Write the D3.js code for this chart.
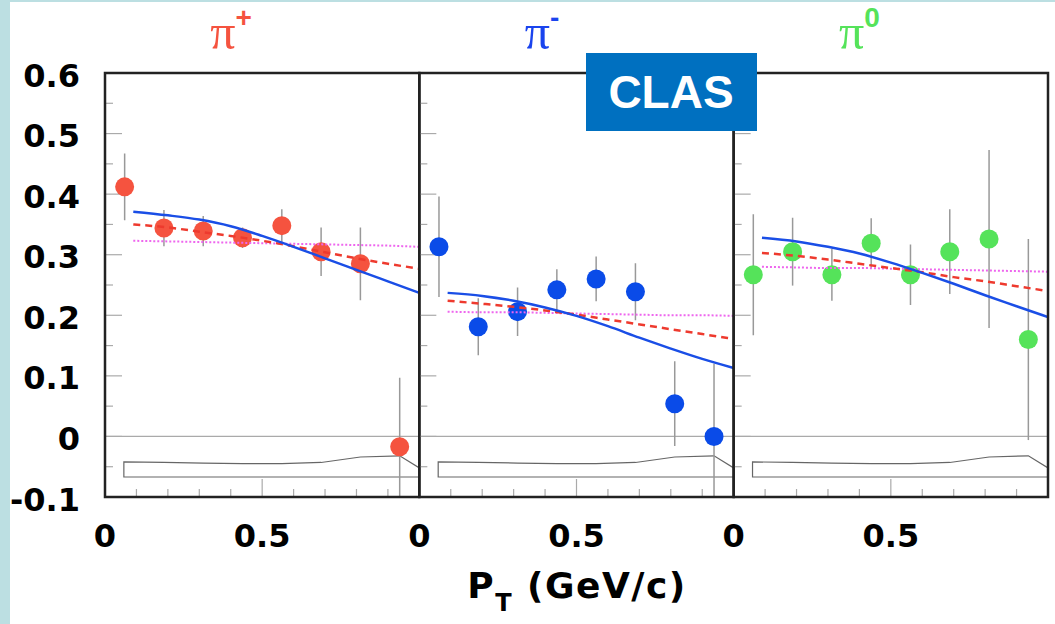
<!DOCTYPE html>
<html>
<head>
<meta charset="utf-8">
<script src="https://cdn.jsdelivr.net/npm/d3@7"></script>
<style>
  html, body { margin: 0; padding: 0; background: #fff; }
  svg { display: block; }
  .lbl { font-family: 'DejaVu Sans', 'Liberation Sans', sans-serif; font-weight: bold; fill: #000; }
</style>
</head>
<body>
<svg id="chart"></svg>
<script>
// bin centres in P_T (GeV/c)
const binCenters = [0.0625, 0.1875, 0.3125, 0.4375, 0.5625, 0.6875, 0.8125, 0.9375];

const piPlusVals = [0.412, 0.344, 0.339, 0.328, 0.348, 0.305, 0.285, -0.017];
const piPlusErrs = [0.055, 0.03, 0.025, 0.017, 0.027, 0.04, 0.06, 0.114];
const piMinusVals = [0.313, 0.181, 0.206, 0.242, 0.26, 0.239, 0.054, 0.0];
const piMinusErrs = [0.083, 0.047, 0.04, 0.034, 0.037, 0.047, 0.07, 0.12];
const piZeroVals = [0.267, 0.305, 0.267, 0.319, 0.267, 0.305, 0.326, 0.16];
const piZeroErrs = [0.1, 0.056, 0.043, 0.041, 0.05, 0.07, 0.147, 0.166];

// theory curves
const theoryPt = [0.09, 0.2, 0.3, 0.4, 0.5, 0.6, 0.7, 0.8, 0.9, 1.0];
const piPlusSolid = [0.371, 0.365, 0.358, 0.347, 0.331, 0.313, 0.294, 0.275, 0.256, 0.237];
const piPlusDashed = [0.35, 0.345, 0.338, 0.331, 0.323, 0.314, 0.304, 0.294, 0.285, 0.277];
const piPlusDotted = [0.323, 0.322, 0.321, 0.32, 0.319, 0.318, 0.317, 0.316, 0.315, 0.313];
const piMinusSolid = [0.237, 0.232, 0.224, 0.213, 0.199, 0.182, 0.163, 0.145, 0.128, 0.113];
const piMinusDashed = [0.224, 0.219, 0.214, 0.208, 0.201, 0.193, 0.185, 0.177, 0.169, 0.161];
const piMinusDotted = [0.206, 0.205, 0.205, 0.204, 0.203, 0.202, 0.201, 0.2, 0.2, 0.199];
const piZeroSolid = [0.328, 0.322, 0.313, 0.302, 0.287, 0.27, 0.252, 0.233, 0.215, 0.197];
const piZeroDashed = [0.303, 0.298, 0.292, 0.285, 0.278, 0.271, 0.263, 0.256, 0.248, 0.24];
const piZeroDotted = [0.28, 0.279, 0.278, 0.278, 0.277, 0.276, 0.275, 0.274, 0.273, 0.272];

// systematic band outline
const bandPt = [0.06, 0.1875, 0.3125, 0.4375, 0.5625, 0.6875, 0.8125, 0.9375, 1.0];
const bandTop = [-0.042, -0.043, -0.044, -0.045, -0.045, -0.043, -0.034, -0.032, -0.052];
const bandBottom = -0.067;

const yTicks = [-0.1, 0, 0.1, 0.2, 0.3, 0.4, 0.5, 0.6];
const yTickLabels = ['-0.1', '0', '0.1', '0.2', '0.3', '0.4', '0.5', '0.6'];
const xTickValues = [0, 0.5];
const xTickLabels = ['0', '0.5'];

const panelNames = ['π', 'π', 'π'];
const panelCharges = ['+', '-', '0'];
const panelColors = ['#f5533f', '#1a44ee', '#55e35a'];
const dotColors = ['#f5533f', '#0a4be8', '#55e35a'];

const panelData = [
  { vals: piPlusVals, errs: piPlusErrs, solid: piPlusSolid, dashed: piPlusDashed, dotted: piPlusDotted },
  { vals: piMinusVals, errs: piMinusErrs, solid: piMinusSolid, dashed: piMinusDashed, dotted: piMinusDotted },
  { vals: piZeroVals, errs: piZeroErrs, solid: piZeroSolid, dashed: piZeroDashed, dotted: piZeroDotted },
];

const width = 1055;
const height = 624;
const svg = d3.select('#chart').attr('width', width).attr('height', height);

// page background with light frame
svg.append('rect').attr('width', width).attr('height', height).attr('fill', '#bcdfe2');
svg.append('rect').attr('x', 10).attr('y', 2).attr('width', width - 10).attr('height', height - 2).attr('fill', '#fff');

const panelEdge = d3.scaleLinear().domain([0, 3]).range([105, 1048]);
const y = d3.scaleLinear().domain([-0.1, 0.6]).range([497, 73]);

const defs = svg.append('defs');

panelData.forEach((p, i) => {
  const x = d3.scaleLinear().domain([0, 1]).range([panelEdge(i), panelEdge(i + 1)]);
  const g = svg.append('g');

  defs.append('clipPath').attr('id', `clip${i}`)
    .append('rect')
      .attr('x', x(0)).attr('y', y(0.6))
      .attr('width', x(1) - x(0)).attr('height', y(-0.1) - y(0.6));

  // y ticks (major every 0.1, minor every 0.05)
  const yMinor = d3.range(-0.05, 0.6, 0.1);
  g.selectAll('.ymaj').data(yTicks).enter().append('line')
    .attr('x1', x(0)).attr('x2', x(0) + 17)
    .attr('y1', d => y(d)).attr('y2', d => y(d))
    .attr('stroke', '#aaa').attr('stroke-width', 1.2);
  g.selectAll('.ymin').data(yMinor).enter().append('line')
    .attr('x1', x(0)).attr('x2', x(0) + 8)
    .attr('y1', d => y(d)).attr('y2', d => y(d))
    .attr('stroke', '#aaa').attr('stroke-width', 1.2);

  // x ticks
  const xMinor = d3.range(0.1, 1, 0.1).filter(d => Math.abs(d - 0.5) > 0.01);
  g.selectAll('.xmin').data(xMinor).enter().append('line')
    .attr('x1', d => x(d)).attr('x2', d => x(d))
    .attr('y1', y(-0.1)).attr('y2', y(-0.1) - 8)
    .attr('stroke', '#aaa').attr('stroke-width', 1.2);
  g.append('line')
    .attr('x1', x(0.5)).attr('x2', x(0.5))
    .attr('y1', y(-0.1)).attr('y2', y(-0.1) - 18)
    .attr('stroke', '#aaa').attr('stroke-width', 1.2);

  // zero line
  g.append('line')
    .attr('x1', x(0)).attr('x2', x(1))
    .attr('y1', y(0)).attr('y2', y(0))
    .attr('stroke', '#aaa').attr('stroke-width', 1.2);

  // systematic band
  const bandPts = bandPt.map((d, k) => [d, bandTop[k]])
    .concat([[1.0, bandBottom], [bandPt[0], bandBottom]]);
  g.append('path')
    .attr('d', d3.line().x(d => x(d[0])).y(d => y(d[1]))(bandPts) + 'Z')
    .attr('fill', 'none').attr('stroke', '#666').attr('stroke-width', 1.2);

  const inner = g.append('g').attr('clip-path', `url(#clip${i})`);

  // error bars
  inner.selectAll('.err').data(binCenters).enter().append('line')
    .attr('x1', d => x(d)).attr('x2', d => x(d))
    .attr('y1', (d, k) => y(p.vals[k] + p.errs[k]))
    .attr('y2', (d, k) => y(p.vals[k] - p.errs[k]))
    .attr('stroke', '#999').attr('stroke-width', 1.5);

  // points
  inner.selectAll('.dot').data(binCenters).enter().append('circle')
    .attr('cx', d => x(d))
    .attr('cy', (d, k) => y(p.vals[k]))
    .attr('r', 9.5)
    .attr('fill', dotColors[i]);

  // curves
  const curve = vals => d3.line()
    .curve(d3.curveMonotoneX)
    .x(d => x(d))
    .y((d, k) => y(vals[k]))(theoryPt);

  inner.append('path').attr('d', curve(p.dotted))
    .attr('fill', 'none').attr('stroke', '#ee66ee').attr('stroke-width', 2)
    .attr('stroke-dasharray', '2,2');
  inner.append('path').attr('d', curve(p.dashed))
    .attr('fill', 'none').attr('stroke', '#ee3a2e').attr('stroke-width', 2.5)
    .attr('stroke-dasharray', '7,5');
  inner.append('path').attr('d', curve(p.solid))
    .attr('fill', 'none').attr('stroke', '#1a4ee6').attr('stroke-width', 2.5);

  // frame
  g.append('rect')
    .attr('x', x(0)).attr('y', y(0.6))
    .attr('width', x(1) - x(0)).attr('height', y(-0.1) - y(0.6))
    .attr('fill', 'none').attr('stroke', '#222').attr('stroke-width', 2.5);

  // x tick labels
  g.selectAll('.xl').data(xTickValues).enter().append('text')
    .attr('class', 'lbl')
    .attr('x', d => x(d)).attr('y', 547)
    .attr('text-anchor', 'middle')
    .style('font-size', '32px')
    .text((d, k) => xTickLabels[k]);

  // panel title
  const t = svg.append('text')
    .attr('x', x(0.335)).attr('y', 49)
    .attr('fill', panelColors[i]);
  t.append('tspan')
    .style('font-family', "'Liberation Serif', 'DejaVu Serif', serif")
    .style('font-size', '50px')
    .text(panelNames[i]);
  t.append('tspan')
    .attr('dy', -22)
    .style('font-family', "'Liberation Sans', Arial, sans-serif")
    .style('font-weight', 'bold')
    .style('font-size', '28px')
    .text(panelCharges[i]);
});

// y tick labels
svg.selectAll('.yl').data(yTicks).enter().append('text')
  .attr('class', 'lbl')
  .attr('x', 80).attr('y', d => y(d) + 2)
  .attr('dy', '0.36em')
  .attr('text-anchor', 'end')
  .style('font-size', '32px')
  .text((d, k) => yTickLabels[k]);

// axis title
const title = svg.append('text')
  .attr('class', 'lbl')
  .attr('x', 577).attr('y', 598)
  .attr('text-anchor', 'middle')
  .style('font-size', '36px')
  .style('letter-spacing', '1.5px');
title.append('tspan').text('P');
title.append('tspan').attr('dy', 13).style('font-size', '24px').text('T');
title.append('tspan').attr('dy', -13).text(' (GeV/c)');

// CLAS label
svg.append('rect')
  .attr('x', 586).attr('y', 53).attr('width', 171).attr('height', 78)
  .attr('fill', '#0070c0');
svg.append('text')
  .attr('x', 671).attr('y', 92)
  .attr('dy', '0.35em')
  .attr('text-anchor', 'middle')
  .attr('fill', '#fff')
  .style('font-family', "'Liberation Sans', Arial, sans-serif")
  .style('font-weight', 'bold')
  .style('font-size', '46px')
  .text('CLAS');
</script>
</body>
</html>
